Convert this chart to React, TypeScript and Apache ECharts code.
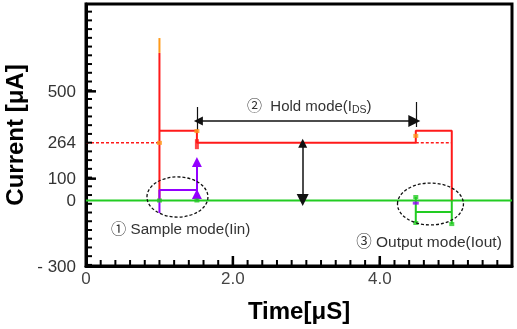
import React, { useEffect, useRef } from 'react';
import * as echarts from 'echarts';

// ---- axis values ----
const X_MIN = 0;
const X_MAX = 5.8;
const Y_MIN = -300;
const Y_MAX = 900;
const yTickLabels = [-300, 0, 100, 264, 500];
const yMajorTicks = [100, 500];
const xTickLabels = [0, 2, 4];
const xMajorTicks = [2, 4];

// ---- traces (time in µs, current in µA) ----
const baseline = [[0, 0], [5.8, 0]];
const redTrace = [
  [1.0, 0], [1.0, 676], [1.0, 320], [1.51, 320], [1.51, 264],
  [4.49, 264], [4.49, 320], [4.98, 320], [4.98, 0],
];
const orangeSpike = [[1.0, 676], [1.0, 744]];
const holdRefLeft = [[0, 264], [1.0, 264]];
const holdRefRight = [[4.49, 264], [4.98, 264]];
const sampleTrace = [[1.0, -57], [1.0, 48], [1.51, 48]];
const sampleArrowHigh = [[1.51, 0], [1.51, 176]];
const sampleArrowLow = [[1.51, 0], [1.51, 30]];
const outputTrace = [
  [4.49, 16], [4.49, -103], [4.49, -53], [4.98, -53], [4.98, -108], [4.98, 0],
];
const holdArrow = [[1.53, 364], [4.47, 364]];
const holdTickLeft = [[1.51, 428], [1.51, 323]];
const holdTickRight = [[4.49, 451], [4.49, 337]];
const gapArrow = [[2.95, 262], [2.95, 2]];

const orangeMarks = [[1.51, 318], [4.49, 296], [1.0, 264]];
const redMarks = [[1.51, 258]];
const greenMarks = [[4.49, 16], [4.49, -103], [4.98, -108], [1.0, 0], [1.51, 0]];
const purpleMarks = [[4.49, -12]];

// ellipses: [centerT, centerI, halfWidthT, halfHeightI]
const ellipses = [
  [1.245, 16, 0.415, 92],
  [4.69, -16, 0.449, 96],
];

// annotation texts: [t, I]
const sampleTextPos = [1.29, -130];
const holdTextPos = [3.04, 437];
const outputTextPos = [4.67, -190];

const FONT = '"Liberation Sans", Arial, "Noto Sans CJK JP", sans-serif';
const RED = '#ff1a1a';
const GREEN = '#22cc22';
const PURPLE = '#9400ff';
const ORANGE = '#ff9a1a';

function ticks(from: number, to: number, step: number) {
  const out: number[] = [];
  for (let v = from; v <= to + 1e-9; v += step) out.push(Math.round(v * 1000) / 1000);
  return out;
}

export default function App() {
  const ref = useRef<HTMLDivElement>(null);
  useEffect(() => {
    if (!ref.current) return;
    const chart = echarts.init(ref.current, undefined, { renderer: 'svg' });
    const yMinor = ticks(-295, 880, 40);
    const xMinor = ticks(0.2, 5.6, 0.2);
    const lineS = (data: number[][], color: string, width = 2, type: any = 'solid', z = 3) => ({
      type: 'line', data, symbol: 'none', z,
      lineStyle: { color, width, type }, silent: true,
    });
    const scat = (data: number[][], color: string, symbol = 'rect', size: any = [5, 4]) => ({
      type: 'scatter', data, symbol, symbolSize: size, z: 6,
      itemStyle: { color }, silent: true,
    });
    chart.setOption({
      animation: false,
      grid: {
        left: 86, right: 5, top: 4, bottom: 63, containLabel: false, outerBoundsMode: 'none',
        show: true, borderColor: '#000', borderWidth: 3, backgroundColor: 'transparent',
      },
      xAxis: {
        type: 'value', min: X_MIN, max: X_MAX,
        axisLine: { show: true, onZero: false, lineStyle: { color: '#000', width: 3 } },
        axisTick: { show: false },
        axisLabel: {
          customValues: xTickLabels, fontSize: 17, color: '#444', fontFamily: FONT, margin: 4,
          formatter: (v: number) => (v === 0 ? '0' : v.toFixed(1)),
        },
        splitLine: { show: false },
        name: 'Time[μS]', nameLocation: 'middle', nameGap: 32,
        nameTextStyle: { fontSize: 24, fontWeight: 'bold', color: '#000', fontFamily: FONT },
      },
      yAxis: {
        type: 'value', min: Y_MIN, max: Y_MAX,
        axisLine: { show: true, onZero: false, lineStyle: { color: '#000', width: 3 } },
        axisTick: { show: false },
        axisLabel: {
          customValues: yTickLabels, fontSize: 17, color: '#333', fontFamily: FONT, margin: 10,
          formatter: (v: number) => (v < 0 ? '- ' + Math.abs(v) : String(v)),
        },
        splitLine: { show: false },
        name: 'Current [μA]', nameLocation: 'middle', nameGap: 49,
        nameTextStyle: { fontSize: 24, fontWeight: 'bold', color: '#000', fontFamily: FONT },
      },
      series: [
        lineS(holdRefLeft, RED, 1.5, [3, 2], 2),
        lineS(holdRefRight, RED, 1.5, [3, 2], 2),
        lineS(baseline, GREEN, 2, 'solid', 2),
        lineS(redTrace, RED, 2, 'solid', 3),
        lineS(orangeSpike, ORANGE, 2, 'solid', 3),
        lineS(sampleTrace, PURPLE, 2, 'solid', 4),
        lineS(outputTrace, GREEN, 2, 'solid', 4),
        {
          type: 'lines', coordinateSystem: 'cartesian2d', symbol: ['none', 'triangle'], symbolSize: [8, 10], z: 5,
          lineStyle: { color: PURPLE, width: 2, opacity: 1 }, silent: true,
          data: [{ coords: sampleArrowHigh }, { coords: sampleArrowLow }],
        },
        {
          type: 'lines', coordinateSystem: 'cartesian2d', symbol: ['triangle', 'triangle'], symbolSize: [9, 12], z: 5,
          lineStyle: { color: '#111', width: 1.5, opacity: 1 }, silent: true,
          data: [{ coords: holdArrow }, { coords: gapArrow }],
        },
        {
          type: 'lines', coordinateSystem: 'cartesian2d', symbol: 'none', z: 5,
          lineStyle: { color: '#111', width: 1.2, opacity: 1 }, silent: true,
          data: [{ coords: holdTickLeft }, { coords: holdTickRight }],
        },
        scat(orangeMarks, ORANGE),
        scat(redMarks, RED, 'rect', [4, 10]),
        scat(greenMarks, GREEN),
        scat(purpleMarks, PURPLE, 'rect', [6, 3]),
        {
          type: 'custom', z: 7, silent: true,
          data: ellipses,
          renderItem: (_p: any, api: any) => {
            const c = api.coord([api.value(0), api.value(1)]);
            const s = api.size([api.value(2), api.value(3)]);
            return {
              type: 'ellipse',
              shape: { cx: c[0], cy: c[1], rx: s[0], ry: s[1] },
              style: { fill: 'none', stroke: '#111', lineWidth: 1.3, lineDash: [3, 2] },
            };
          },
        },
      ],
    });

    const px = (p: number[]) => chart.convertToPixel({ xAxisIndex: 0, yAxisIndex: 0 }, p) as number[];

    // tick marks drawn as graphic lines at axis positions
    const tickGraphics: any[] = [];
    const addX = (v: number, len: number, w: number) => {
      const p = px([v, Y_MIN]);
      tickGraphics.push({
        type: 'line', z: 50, silent: true,
        shape: { x1: p[0], y1: p[1], x2: p[0], y2: p[1] - len },
        style: { stroke: '#000', lineWidth: w },
      });
    };
    const addY = (v: number, len: number, w: number) => {
      const p = px([X_MIN, v]);
      tickGraphics.push({
        type: 'line', z: 50, silent: true,
        shape: { x1: p[0], y1: p[1], x2: p[0] + len, y2: p[1] },
        style: { stroke: '#000', lineWidth: w },
      });
    };
    xMinor.forEach((v) => addX(v, 6, 2));
    xMajorTicks.forEach((v) => addX(v, 10, 2.5));
    yMinor.forEach((v) => addY(v, 6, 2));
    yMajorTicks.forEach((v) => addY(v, 10, 2.5));

    const s = px(sampleTextPos);
    const h = px(holdTextPos);
    const o = px(outputTextPos);
    const txt = (p: number[], text: string, size: number, rich?: any) => ({
      type: 'text', x: p[0], y: p[1], z: 60, silent: true,
      style: {
        text, fontSize: size, fill: '#333', fontFamily: FONT,
        align: 'center', verticalAlign: 'middle', rich,
      },
    });
    chart.setOption({
      graphic: [
        ...tickGraphics,
        txt(s, '① Sample mode(Iin)', 15.2),
        txt(h, '{a|②  Hold mode(I}{b|DS}{a|)}', 15, {
          a: { fontSize: 15, fill: '#333', fontFamily: FONT, verticalAlign: 'bottom' },
          b: { fontSize: 10.5, fill: '#333', fontFamily: FONT, verticalAlign: 'bottom', padding: [0, 0, -2, 0] },
        }),
        txt(o, '③ Output mode(Iout)', 15.5),
      ],
    });
    return () => chart.dispose();
  }, []);
  return <div ref={ref} style={{ position: 'fixed', left: 0, top: 0, width: 517, height: 329 }} />;
}
